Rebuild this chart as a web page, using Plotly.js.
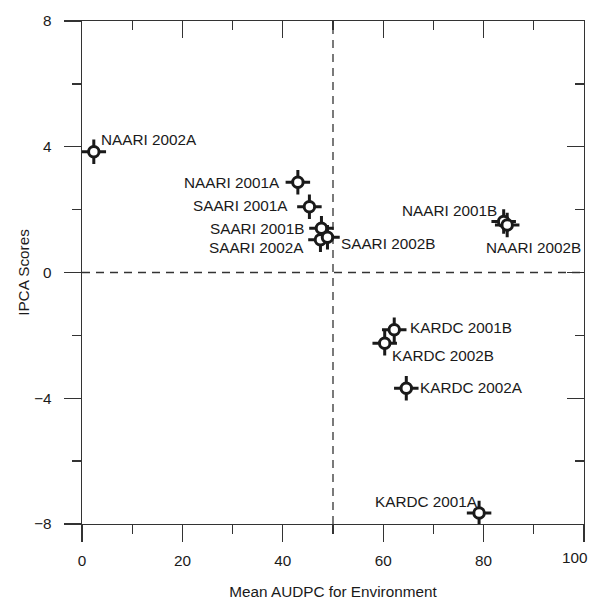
<!DOCTYPE html>
<html>
<head>
<meta charset="utf-8">
<script src="https://cdn.plot.ly/plotly-3.0.1.min.js"></script>
<style>html,body{margin:0;padding:0;background:#fff;}</style>
</head>
<body>
<div id="chart" style="width:589px;height:600px;"></div>
<script>
// ---- data ----
const environments = ['NAARI 2002A','NAARI 2001A','SAARI 2001A','SAARI 2001B','SAARI 2002A','SAARI 2002B',
                      'NAARI 2001B','NAARI 2002B','KARDC 2001B','KARDC 2002B','KARDC 2002A','KARDC 2001A'];
const meanAUDPC   = [2.35, 43.0, 45.3, 47.7, 47.5, 48.9, 84.0, 84.7, 62.2, 60.3, 64.6, 79.1];
const ipcaScores  = [3.84, 2.87, 2.09, 1.41, 1.04, 1.12, 1.62, 1.51, -1.82, -2.25, -3.68, -7.65];
const xTickVals   = [0, 20, 40, 60, 80, 100];
const xTickLabels = ['0', '20', '40', '60', '80', '100'];
const yTickVals   = [-8, -4, 0, 4, 8];
const xRefLine = 50;
const yRefLine = 0;

// ---- label placement (pixels) ----
const labelAnchor = ['left','right','right','right','right','left','right','left','left','left','left','right'];
const labelDx     = [5, -16, -19, -15, -14, 12, -5, -23, 14, 5, 12, 1];
const labelDy     = [-12, 0, -1, 0, 8, 6, -11, 22, -2, 12, -1, -12];

const FONT = 'Liberation Sans, Arial, Helvetica, sans-serif';
const INK = '#1a1a1a';
const AX = '#333333';

const traces = [
  { x: meanAUDPC, y: ipcaScores, type: 'scatter', mode: 'markers', hoverinfo: 'skip', showlegend: false,
    marker: { symbol: 'cross-thin-open', size: 17.5, color: INK, line: { color: INK, width: 3 } } },
  { x: meanAUDPC, y: ipcaScores, type: 'scatter', mode: 'markers', text: environments, showlegend: false,
    marker: { symbol: 'circle', size: 10.5, color: '#ffffff', line: { color: INK, width: 3 } } },
  { x: [], y: [], xaxis: 'x2', yaxis: 'y2', type: 'scatter', mode: 'markers', showlegend: false, hoverinfo: 'skip' }
];

const annotations = environments.map((name, i) => ({
  x: meanAUDPC[i], y: ipcaScores[i], xref: 'x', yref: 'y',
  text: name, showarrow: false,
  xanchor: labelAnchor[i], yanchor: 'middle',
  xshift: labelDx[i], yshift: -labelDy[i],
  font: { family: FONT, size: 15.3, color: INK }
}));
// last x tick label sits against the right edge of the page (as in the reference)
const lastIdx = xTickVals.length - 1;
annotations.push({
  x: xTickVals[lastIdx], y: 0, xref: 'x', yref: 'paper',
  text: xTickLabels[lastIdx], showarrow: false,
  xanchor: 'right', yanchor: 'middle', xshift: 6, yshift: -33,
  font: { family: FONT, size: 15.3, color: INK }
});
const xTickTextShown = xTickLabels.map((t, i) => (i === lastIdx ? '' : t));

const baseAxis = {
  showline: true, linecolor: AX, linewidth: 1.3, mirror: false,
  showgrid: false, zeroline: false,
  tickcolor: AX, tickwidth: 1.3,
  tickfont: { family: FONT, size: 15.3, color: INK }
};

const layout = {
  width: 589, height: 600,
  margin: { l: 81.5, r: 5, t: 21, b: 76, pad: 0 },
  paper_bgcolor: '#ffffff', plot_bgcolor: '#ffffff',
  font: { family: FONT, size: 15, color: INK },
  xaxis: Object.assign({}, baseAxis, {
    range: [0, 100], tickmode: 'array', tickvals: xTickVals, ticktext: xTickTextShown,
    ticks: 'outside', ticklen: 17, ticklabelstandoff: 5,
    minor: { tick0: 0, dtick: 10, ticks: 'outside', ticklen: 9, tickwidth: 1.3, tickcolor: AX, showgrid: false },
    title: { text: 'Mean AUDPC for Environment', font: { family: FONT, size: 15.3, color: INK }, standoff: 22 }
  }),
  yaxis: Object.assign({}, baseAxis, {
    range: [-8, 8], tickmode: 'array', tickvals: yTickVals,
    ticks: 'outside', ticklen: 17, ticklabelstandoff: 9, ticklabeloverflow: 'allow',
    minor: { tick0: 0, dtick: 2, ticks: 'outside', ticklen: 9, tickwidth: 1.3, tickcolor: AX, showgrid: false },
    title: { text: 'IPCA Scores', font: { family: FONT, size: 15.3, color: INK }, standoff: 0 }
  }),
  xaxis2: Object.assign({}, baseAxis, {
    overlaying: 'x', side: 'top', range: [0, 100], tickmode: 'array', tickvals: xTickVals,
    ticks: 'inside', ticklen: 17, showticklabels: false,
    minor: { tick0: 0, dtick: 10, ticks: 'inside', ticklen: 9, tickwidth: 1.3, tickcolor: AX, showgrid: false }
  }),
  yaxis2: Object.assign({}, baseAxis, {
    overlaying: 'y', side: 'right', range: [-8, 8], tickmode: 'array', tickvals: yTickVals,
    ticks: 'inside', ticklen: 17, showticklabels: false,
    minor: { tick0: 0, dtick: 2, ticks: 'inside', ticklen: 9, tickwidth: 1.3, tickcolor: AX, showgrid: false }
  }),
  shapes: [
    { type: 'line', xref: 'x', yref: 'paper', x0: xRefLine, x1: xRefLine, y0: 0, y1: 1,
      line: { color: AX, width: 1.3, dash: '8px,6px' }, layer: 'below' },
    { type: 'line', xref: 'paper', yref: 'y', x0: 0, x1: 1, y0: yRefLine, y1: yRefLine,
      line: { color: AX, width: 1.3, dash: '8px,6px' }, layer: 'below' }
  ],
  annotations: annotations,
  showlegend: false
};

Plotly.newPlot('chart', traces, layout, { displayModeBar: false, staticPlot: true });
</script>
</body>
</html>
